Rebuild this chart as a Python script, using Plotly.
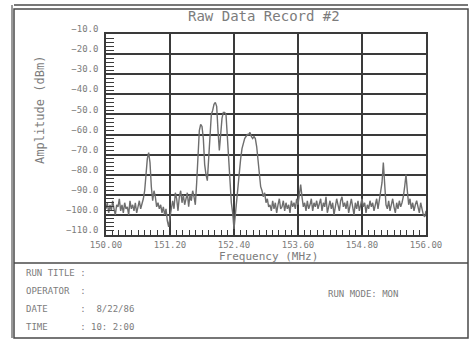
import numpy as np
import plotly.graph_objects as go

# sweep 150.00 - 156.00 MHz, 241 points
f_start = 150.0
f_stop = 156.0
amplitude_dbm = [
    -97, -94, -99, -95, -98, -93, -97, -100, -95, -96, -92, -98, -95, -99, -94, -97, -96, -100, -93, -97,
    -95, -98, -94, -99, -96, -93, -97, -95, -92, -88, -80, -72, -69, -74, -86, -93, -88, -91, -96, -94,
    -97, -95, -99, -96, -100, -97, -103, -106, -101, -96, -93, -97, -89, -92, -98, -91, -88, -94, -90, -95,
    -92, -89, -96, -90, -93, -88, -91, -95, -84, -70, -58, -55, -56, -62, -75, -80, -83, -72, -58, -50,
    -48, -45, -44, -46, -58, -68, -60, -52, -49, -49, -50, -62, -75, -85, -94, -99, -107, -100, -92, -84,
    -78, -72, -67, -64, -62, -61, -60, -60, -59, -61, -62, -61, -62, -66, -74, -82, -86, -88, -91, -89,
    -94, -92, -96, -95, -98, -93, -97, -94, -99, -95, -92, -97, -96, -93, -98, -94, -97, -95, -99, -93,
    -96, -94, -97, -92, -95, -90, -85, -91, -96, -94, -98, -93, -97, -95, -92, -98, -94, -96, -93, -97,
    -95, -92, -98, -94, -96, -91, -99, -95, -93, -97, -94, -100, -96, -92, -95, -98, -93, -91, -96, -94,
    -97, -93, -99, -95, -92, -96, -100, -94, -97, -93, -98, -95, -92, -96, -94, -99, -95, -97, -93, -96,
    -94, -98, -95, -92, -97, -93, -90, -84, -74, -86, -95, -97, -93, -98, -95, -92, -96, -99, -94, -97,
    -93, -96, -94, -91, -86, -80, -88, -95, -92, -97, -94, -98, -95, -93, -96, -99, -94, -97, -100, -101, -98,
]
freq_mhz = np.linspace(f_start, f_stop, len(amplitude_dbm))

x_ticks = [150.0, 151.2, 152.4, 153.6, 154.8, 156.0]
info_labels = ["RUN TITLE :", "OPERATOR  :", "DATE      :  8/22/86", "TIME      : 10: 2:00"]
run_mode = "RUN MODE: MON"

# page geometry (pixels)
W, H = 472, 342
L, R, T, B = 106, 426, 34, 235

def paper_x(x):
    return (x - L) / (R - L)

def paper_y(y):
    return (B - y) / (B - T)

TEXT = "#7c7c7c"
INK = "#3a3a3a"
FONT = "DejaVu Sans Mono"

fig = go.Figure()
fig.add_trace(go.Scatter(x=freq_mhz, y=amplitude_dbm, mode="lines",
                         line=dict(color="#6e6e6e", width=1.4), showlegend=False))

fig.update_layout(width=W, height=H, margin=dict(l=L, r=W - R, t=T, b=H - B),
                  paper_bgcolor="white", plot_bgcolor="white",
                  font=dict(family=FONT, color=TEXT, size=9))

fig.update_xaxes(range=[f_start, f_stop], tickvals=x_ticks, tickformat=".2f",
                 showgrid=True, gridcolor=INK, gridwidth=1.5,
                 showline=True, linecolor=INK, linewidth=1.5, mirror=True,
                 ticks="inside", ticklen=5, tickcolor=INK,
                 minor=dict(dtick=0.12, tick0=150.0, ticks="inside", ticklen=5, tickcolor=INK),
                 tickfont=dict(size=9, color=TEXT), zeroline=False)
fig.update_yaxes(range=[-110.05, -9.95], tick0=-10, dtick=10, tickformat=".1f",
                 showgrid=True, gridcolor=INK, gridwidth=1.5,
                 showline=True, linecolor=INK, linewidth=1.5, mirror=True,
                 ticks="inside", ticklen=8, tickcolor=INK,
                 minor=dict(dtick=2, ticks="inside", ticklen=8, tickcolor=INK),
                 ticklabelshift=-5, ticklabelstandoff=4,
                 tickfont=dict(size=9, color=TEXT), zeroline=False)

annotations = [
    dict(text="Raw Data Record #2", x=paper_x(264), y=paper_y(16), font=dict(size=14)),
    dict(text="Frequency (MHz)", x=paper_x(268), y=paper_y(256), font=dict(size=11)),
    dict(text="Amplitude (dBm)", x=paper_x(40), y=paper_y(110), textangle=-90, font=dict(size=12)),
    dict(text=run_mode, x=paper_x(326), y=paper_y(294), xanchor="left", font=dict(size=9)),
]
for i, label in enumerate(info_labels):
    annotations.append(dict(text=label, x=paper_x(24), y=paper_y(273 + i * 18),
                            xanchor="left", font=dict(size=9)))
for a in annotations:
    a.update(xref="paper", yref="paper", showarrow=False)
    a.setdefault("xanchor", "center")
    a["yanchor"] = "middle"
fig.update_layout(annotations=annotations)

# frame of the printout: double top rule, outer box, divider for the info panel
frame = dict(color="#4a4a4a", width=1.5)
shapes = [
    dict(type="rect", x0=paper_x(14), x1=paper_x(468), y0=paper_y(9), y1=paper_y(338), line=frame),
    dict(type="line", x0=paper_x(14), x1=paper_x(468), y0=paper_y(5), y1=paper_y(5), line=frame),
    dict(type="line", x0=paper_x(14), x1=paper_x(468), y0=paper_y(263), y1=paper_y(263), line=frame),
    dict(type="line", x0=paper_x(12), x1=paper_x(12), y0=paper_y(5), y1=paper_y(338),
         line=dict(color="#9a9a9a", width=2)),
]
for s in shapes:
    s.update(xref="paper", yref="paper")
fig.update_layout(shapes=shapes)

# the page's default body margin would push the figure off its 472x342 frame
fig.write_html("out.html", config={"displayModeBar": False},
               post_script="document.body.style.margin='0';")
